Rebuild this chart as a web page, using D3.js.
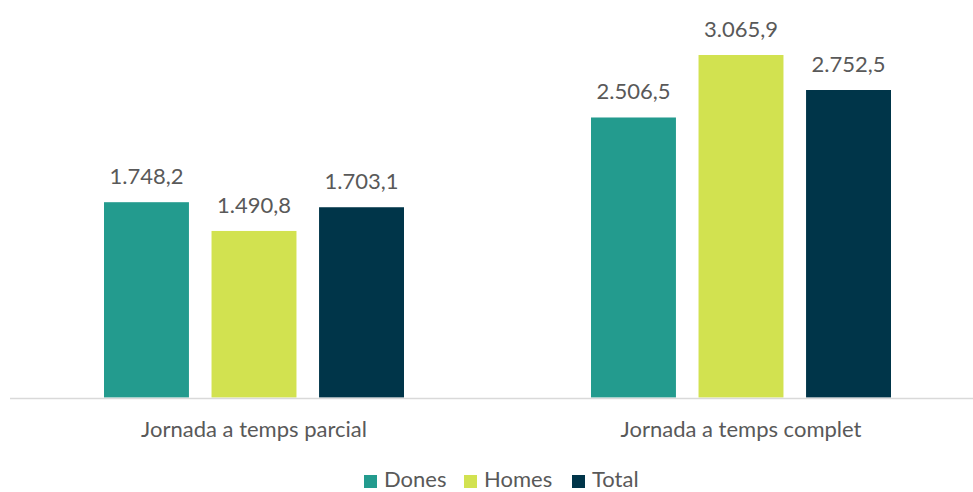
<!DOCTYPE html>
<html>
<head>
<meta charset="utf-8">
<script src="https://cdn.jsdelivr.net/npm/d3@7"></script>
<style>
  body { margin: 0; background: #fff; }
  text { font-family: Lato, "Open Sans", sans-serif; fill: #595959; }
</style>
</head>
<body>
<svg id="chart" width="973" height="492"></svg>
<script>
// data
var categories = ["Jornada a temps parcial", "Jornada a temps complet"];
var series = ["Dones", "Homes", "Total"];
var dones = [1748.2, 2506.5];
var homes = [1490.8, 3065.9];
var total = [1703.1, 2752.5];
var colors = ["#239b8e", "#d2e250", "#003549"];

var values = [dones, homes, total];
var svg = d3.select("#chart");

// scales
var x0 = d3.scaleBand()
    .domain(categories)
    .range([10.5, 984.5]);

var x1 = d3.scaleBand()
    .domain(series)
    .range([93.5, 393.5])
    .paddingInner(0.21);

var y = d3.scaleLinear()
    .domain([0, 3500])
    .range([397.5, 6.5]);

var fmt = function(v) {
  var s = d3.format(",.1f")(v);
  return s.replace(/,/g, "#").replace(".", ",").replace(/#/g, ".");
};

var rows = [];
categories.forEach(function(c, i) {
  series.forEach(function(s, j) {
    rows.push({cat: c, ser: s, val: values[j][i], color: colors[j]});
  });
});

// bars
svg.selectAll("rect.bar")
    .data(rows)
  .enter().append("rect")
    .attr("class", "bar")
    .attr("x", function(d) { return x0(d.cat) + x1(d.ser); })
    .attr("y", function(d) { return y(d.val); })
    .attr("width", x1.bandwidth())
    .attr("height", function(d) { return y(0) - y(d.val); })
    .style("fill", function(d) { return d.color; });

// value labels
svg.selectAll("text.val")
    .data(rows)
  .enter().append("text")
    .attr("class", "val")
    .attr("x", function(d) { return x0(d.cat) + x1(d.ser) + x1.bandwidth() / 2; })
    .attr("y", function(d) { return y(d.val) - 18; })
    .attr("text-anchor", "middle")
    .style("font-size", "22px")
    .text(function(d) { return fmt(d.val); });

// axis line
svg.append("line")
    .attr("x1", 10)
    .attr("x2", 973)
    .attr("y1", 398.5)
    .attr("y2", 398.5)
    .style("stroke", "#d9d9d9")
    .style("stroke-width", 1.5);

// category labels
svg.selectAll("text.cat")
    .data(categories)
  .enter().append("text")
    .attr("class", "cat")
    .attr("x", function(d) { return x0(d) + x0.bandwidth() / 2; })
    .attr("y", 437)
    .attr("text-anchor", "middle")
    .style("font-size", "22px")
    .text(function(d) { return d; });

// legend
var legendX = [364, 464, 572];
var legend = svg.selectAll("g.legend")
    .data(series)
  .enter().append("g")
    .attr("class", "legend")
    .attr("transform", function(d, i) { return "translate(" + legendX[i] + ",0)"; });

legend.append("rect")
    .attr("x", 0)
    .attr("y", 475)
    .attr("width", 13)
    .attr("height", 13)
    .style("fill", function(d, i) { return colors[i]; });

legend.append("text")
    .attr("x", 20)
    .attr("y", 487)
    .style("font-size", "22px")
    .text(function(d) { return d; });
</script>
</body>
</html>
